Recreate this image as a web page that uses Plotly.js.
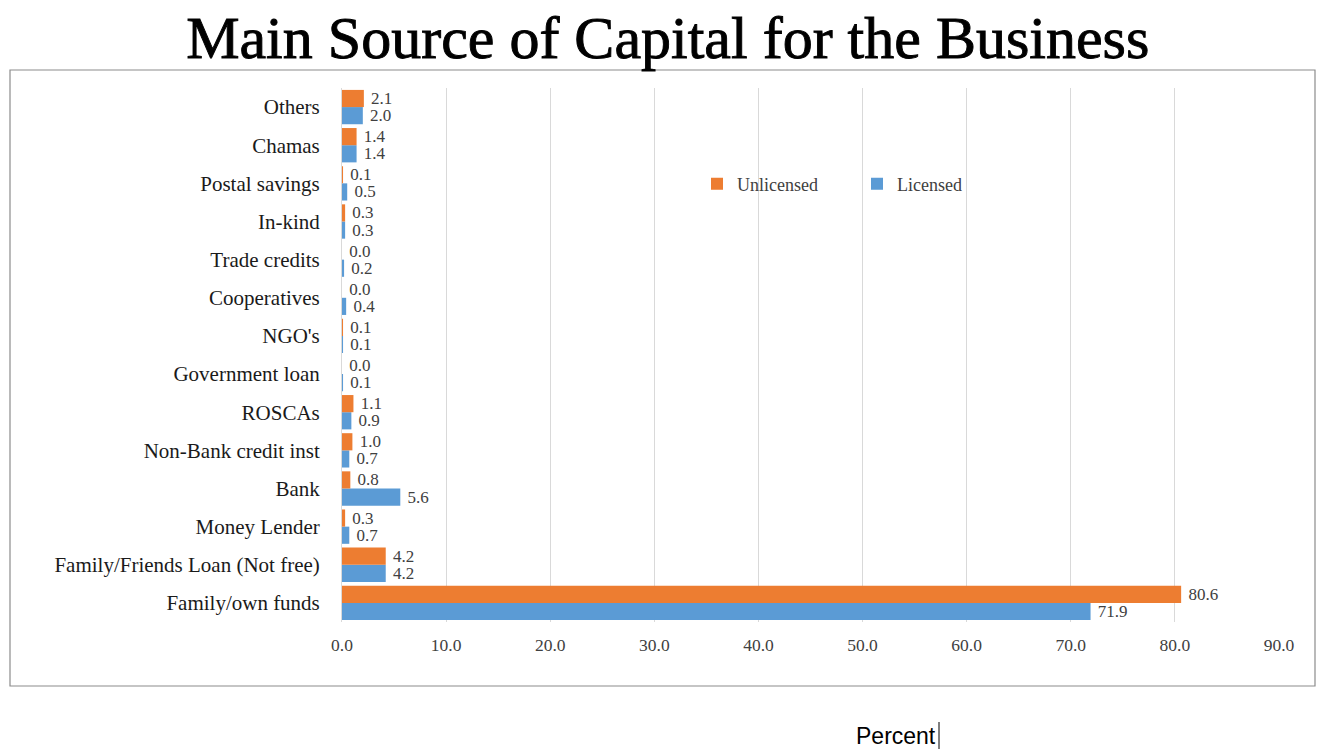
<!DOCTYPE html>
<html>
<head>
<meta charset="utf-8">
<script src="https://cdn.plot.ly/plotly-3.0.1.min.js"></script>
<style>html,body{margin:0;padding:0;background:#fff;}#chart{width:1317px;height:749px;}
#chart .gtitle{stroke:#000;stroke-width:0.9px;}</style>
</head>
<body>
<div id="chart"></div>
<script>
// categories listed bottom-to-top
const categories = ["Family/own funds","Family/Friends Loan (Not free)","Money Lender","Bank","Non-Bank credit inst","ROSCAs","Government loan","NGO's","Cooperatives","Trade credits","In-kind","Postal savings","Chamas","Others"];
const unlicensed = [80.6,4.2,0.3,0.8,1.0,1.1,0.0,0.1,0.0,0.0,0.3,0.1,1.4,2.1];
const licensed   = [71.9,4.2,0.7,5.6,0.7,0.9,0.1,0.1,0.4,0.2,0.3,0.5,1.4,2.0];
const xTicks = [0,10,20,30,40,50,60,70,80,90];

const serif = "Liberation Serif, Times New Roman, serif";
const common = {type:'bar', orientation:'h', y:categories, textposition:'outside',
  constraintext:'none',
  texttemplate:' %{x:.1f}', cliponaxis:false, textfont:{family:serif, size:17, color:'#404040'}};

const traces = [
  Object.assign({}, common, {name:'Licensed', x:licensed, marker:{color:'#5B9BD5'}, legendrank:2}),
  Object.assign({}, common, {name:'Unlicensed', x:unlicensed, marker:{color:'#ED7D31'}, legendrank:1})
];

const W=1317,H=749,L=342,R=38,T=88,B=127;
const pw=W-L-R, ph=H-T-B;
const px = x => (x-L)/pw;
const py = y => (H-B-y)/ph;

const layout = {
  width:W, height:H,
  margin:{l:L, r:R, t:T, b:B},
  paper_bgcolor:'#fff', plot_bgcolor:'#fff',
  barmode:'group', bargap:0.1, bargroupgap:0,
  title:{text:'Main Source of Capital for the Business', font:{family:serif, size:60, color:'#000'},
    x:0.507, xanchor:'center', y:1-37/H, yanchor:'middle', yref:'container'},
  xaxis:{range:[0,90], tickvals:xTicks, ticktext:xTicks.map(v=>v.toFixed(1)),
    showgrid:true, gridcolor:'#d9d9d9', gridwidth:1, zeroline:false, showline:false,
    ticks:'', ticklen:0, ticklabelstandoff:10, tickfont:{family:serif, size:17.5, color:'#404040'}},
  yaxis:{showgrid:false, zeroline:false, showline:true, linecolor:'#d9d9d9', linewidth:1,
    ticks:'', ticklabelstandoff:17, tickfont:{family:serif, size:21, color:'#1a1a1a'}},
  showlegend:true,
  legend:{orientation:'h', x:px(697), y:py(184), xanchor:'left', yanchor:'middle',
    entrywidth:115, entrywidthmode:'pixels', itemwidth:30, bgcolor:'rgba(0,0,0,0)',
    font:{family:serif, size:18, color:'#404040'}},
  annotations:[{text:'Percent', xref:'paper', yref:'paper', x:px(896), y:py(736),
    xanchor:'center', yanchor:'middle', showarrow:false,
    font:{family:'Liberation Sans, sans-serif', size:23, color:'#000'}}],
  shapes:[
    {type:'rect', xref:'paper', yref:'paper', x0:px(10), x1:px(1315), y0:py(686), y1:py(70),
      line:{color:'#8c8c8c', width:1.2}, fillcolor:'rgba(0,0,0,0)', layer:'below'},
    {type:'line', xref:'paper', yref:'paper', x0:px(939), x1:px(939), y0:py(722), y1:py(749),
      line:{color:'#000', width:1}}
  ]
};

Plotly.newPlot('chart', traces, layout, {displayModeBar:false, staticPlot:true});
</script>
</body>
</html>
